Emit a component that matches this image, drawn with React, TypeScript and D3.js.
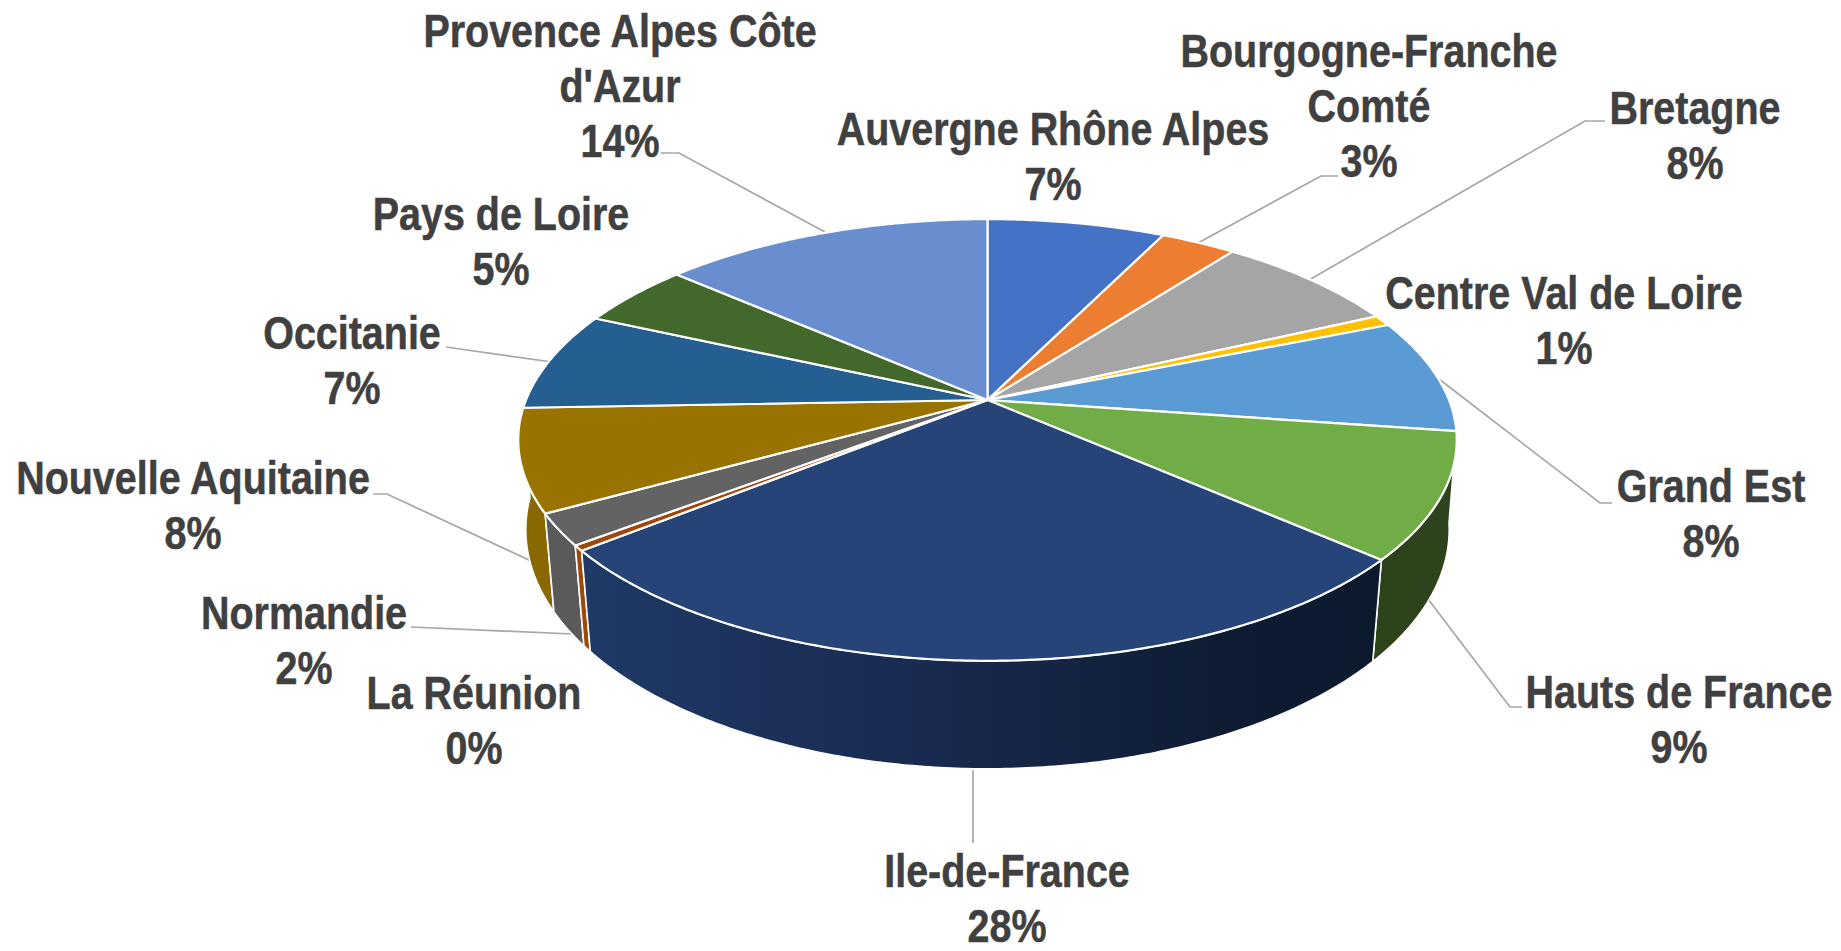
import React from "react";
import * as d3 from "d3";

const regions = ["Auvergne Rhône Alpes","Bourgogne-Franche Comté","Bretagne","Centre Val de Loire","Grand Est","Hauts de France","Ile-de-France","La Réunion","Normandie","Nouvelle Aquitaine","Occitanie","Pays de Loire","Provence Alpes Côte d'Azur"];
const shares = [7.3,3.1,7.7,0.8,8.4,9.2,27.8,0.4,2.3,7.5,7.3,4.7,13.6];
const percentLabels = ["7%","3%","8%","1%","8%","9%","28%","0%","2%","8%","7%","5%","14%"];
const topColors = ["#4472c4","#ed7d31","#a5a5a5","#ffc000","#5b9bd5","#70ad47","#264478","#9e480e","#636363","#997300","#255e91","#43682b","#698ed0"];
const sideColors = ["#2f5090","#a85820","#747474","#b08800","#3f6d96","#2d431c","url(#idfSide)","#9e480e","#5a5a5a","#8a6800","#1a4266","#2f491e","#4a6492"];

const labelLines: string[][] = [["Auvergne Rhône Alpes"],["Bourgogne-Franche","Comté"],["Bretagne"],["Centre Val de Loire"],["Grand Est"],["Hauts de France"],["Ile-de-France"],["La Réunion"],["Normandie"],["Nouvelle Aquitaine"],["Occitanie"],["Pays de Loire"],["Provence Alpes Côte","d'Azur"]];
const labelX = [1053,1369,1695,1564,1711,1679,1007,474,304,193,352,501,620];
const labelFirstBaseline = [145,67,124,309,502,708,887,709,629,494,349,230,47];
const leaders: [number,number][][] = [
  [],
  [[1338,176],[1321,176],[1198,243]],
  [[1605,121],[1585,121],[1309,280]],
  [],
  [[1612,503],[1600,503],[1435,376]],
  [[1522,707],[1510,707],[1428,599]],
  [[973,770],[973,843]],
  [],
  [[411,627],[572,634]],
  [[373,494],[387,494],[531,561]],
  [[446,347],[460,349],[552,362]],
  [],
  [[661,153],[679,153],[825,232]],
];

const W = 1841, H = 951;
const cx = 987.5, cy = 400;
const R = 461.5, Ry = 213.6, k = 0.181;
const LINE = 55, FS = 46, SX = 0.858;

const project = (a: number): [number, number, number] => {
  const u = Math.sin(a), v = -Math.cos(a), w = 1 - k * v;
  return [cx + (R * u) / w, cy + (Ry * v) / w, v];
};
const projectBottom = (a: number): [number, number] => {
  const [x, y, v] = project(a);
  return [cx + (x - cx) * (0.986 - 0.012 * v), y + 89 + 19 * v];
};
const line = d3.line<[number, number]>().x(d => d[0]).y(d => d[1]);
const arcs = d3.pie<number>().sort(null).startAngle(0).endAngle(2 * Math.PI)(shares);
const samples = (a0: number, a1: number) => {
  const n = Math.max(2, Math.ceil((a1 - a0) / 0.01));
  return d3.range(n + 1).map(i => a0 + ((a1 - a0) * i) / n);
};

export default function App() {
  const order = arcs.map((d, i) => ({ d, i })).sort(
    (p, q) => project((p.d.startAngle + p.d.endAngle) / 2)[2] - project((q.d.startAngle + q.d.endAngle) / 2)[2]
  );
  const font = "'Liberation Sans', Arial, sans-serif";
  return (
    <svg width={W} height={H} viewBox={`0 0 ${W} ${H}`} style={{ position: "absolute", left: 0, top: 0, display: "block", background: "#fff" }}>
      <defs>
        <linearGradient id="idfSide" gradientUnits="userSpaceOnUse" x1={580} x2={1380} y1={0} y2={0}>
          <stop offset="0" stopColor="#1f3a66" />
          <stop offset="0.4" stopColor="#1a2b52" />
          <stop offset="0.8" stopColor="#0e1c33" />
          <stop offset="1" stopColor="#0c1a2e" />
        </linearGradient>
      </defs>
      {leaders.map((pts, i) => pts.length ? (
        <path key={i} d={line(pts) as string} fill="none" stroke="#a6a6a6" strokeWidth={1.7} />
      ) : null)}
      {order.map(({ d, i }) => {
        const as = samples(d.startAngle, d.endAngle);
        const top = as.map(a => { const p = project(a); return [p[0], p[1]] as [number, number]; });
        const bot = as.map(projectBottom).reverse();
        return <path key={i} d={(line([...top, ...bot]) as string) + "Z"} fill={sideColors[i]} stroke="#fff" strokeWidth={1.6} strokeLinejoin="round" />;
      })}
      {arcs.map((d, i) => {
        const top = samples(d.startAngle, d.endAngle).map(a => { const p = project(a); return [p[0], p[1]] as [number, number]; });
        return <path key={i} d={(line([[cx, cy], ...top]) as string) + "Z"} fill={topColors[i]} stroke="#fff" strokeWidth={2.2} strokeLinejoin="round" />;
      })}
      {regions.map((r, i) => {
        const lines = [...labelLines[i], percentLabels[i]];
        return (
          <g key={r} transform={`translate(${labelX[i]},0) scale(${SX},1)`}>
            {lines.map((t, j) => (
              <text key={j} x={0} y={labelFirstBaseline[i] + j * LINE} textAnchor="middle" fontFamily={font} fontWeight={700} fontSize={FS} fill="#404040" stroke="#404040" strokeWidth={0.5}>{t}</text>
            ))}
          </g>
        );
      })}
    </svg>
  );
}
